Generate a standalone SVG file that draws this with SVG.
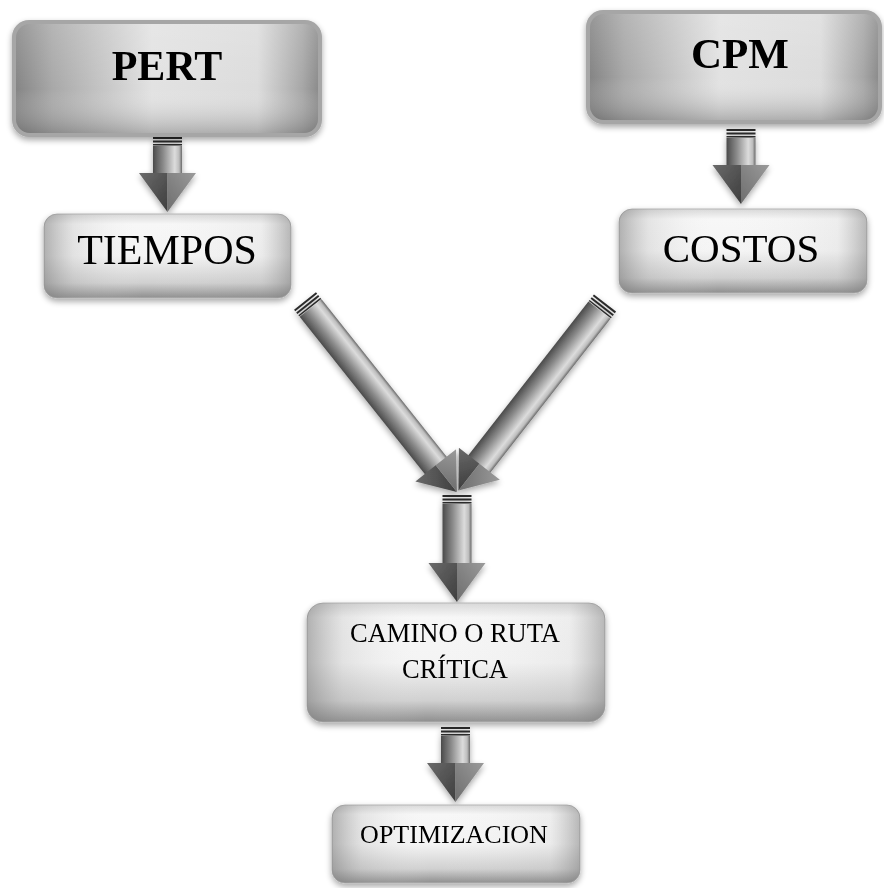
<svg xmlns="http://www.w3.org/2000/svg" width="884" height="888" viewBox="0 0 884 888">
  <defs>
    <style>
      .bold { font-family: "Liberation Serif", "Times New Roman", serif; font-weight: bold; fill: #000; text-anchor: middle; }
      .reg { font-family: "Liberation Serif", "Times New Roman", serif; fill: #000; text-anchor: middle; }
      .stripe { fill: #2a2a2a; }
    </style>
    <!-- dark bevelled header boxes -->
    <linearGradient id="hdrH" x1="0" y1="0" x2="1" y2="0">
      <stop offset="0" stop-color="#858585"/>
      <stop offset="0.12" stop-color="#a8a8a8"/>
      <stop offset="0.45" stop-color="#e2e2e2"/>
      <stop offset="0.8" stop-color="#dcdcdc"/>
      <stop offset="0.95" stop-color="#a6a6a6"/>
      <stop offset="1" stop-color="#8c8c8c"/>
    </linearGradient>
    <linearGradient id="hdrV" x1="0" y1="0" x2="0" y2="1">
      <stop offset="0" stop-color="#ffffff" stop-opacity="0.15"/>
      <stop offset="0.6" stop-color="#ffffff" stop-opacity="0"/>
      <stop offset="1" stop-color="#555" stop-opacity="0.35"/>
    </linearGradient>
    <!-- glossy light boxes -->
    <linearGradient id="glossV" x1="0" y1="0" x2="0" y2="1">
      <stop offset="0" stop-color="#d8d8d8"/>
      <stop offset="0.12" stop-color="#f7f7f7"/>
      <stop offset="0.5" stop-color="#f4f4f4"/>
      <stop offset="0.82" stop-color="#d0d0d0"/>
      <stop offset="1" stop-color="#8e8e8e"/>
    </linearGradient>
    <linearGradient id="glossH" x1="0" y1="0" x2="1" y2="0">
      <stop offset="0" stop-color="#777" stop-opacity="0.55"/>
      <stop offset="0.12" stop-color="#999" stop-opacity="0.2"/>
      <stop offset="0.4" stop-color="#fff" stop-opacity="0"/>
      <stop offset="0.88" stop-color="#999" stop-opacity="0.1"/>
      <stop offset="1" stop-color="#777" stop-opacity="0.5"/>
    </linearGradient>
    <!-- arrow shading -->
    <linearGradient id="shaft" x1="0" y1="0" x2="1" y2="0">
      <stop offset="0" stop-color="#4a4a4a"/>
      <stop offset="0.35" stop-color="#8a8a8a"/>
      <stop offset="0.75" stop-color="#dcdcdc"/>
      <stop offset="0.9" stop-color="#bdbdbd"/>
      <stop offset="1" stop-color="#6a6a6a"/>
    </linearGradient>
    <linearGradient id="headL" x1="0" y1="0" x2="1" y2="1">
      <stop offset="0" stop-color="#6a6a6a"/>
      <stop offset="1" stop-color="#3e3e3e"/>
    </linearGradient>
    <linearGradient id="headR" x1="1" y1="0" x2="0" y2="1">
      <stop offset="0" stop-color="#9a9a9a"/>
      <stop offset="1" stop-color="#6e6e6e"/>
    </linearGradient>
    <filter id="shadow" x="-10%" y="-10%" width="120%" height="130%">
      <feGaussianBlur in="SourceAlpha" stdDeviation="3"/>
      <feOffset dx="0" dy="3" result="b"/>
      <feComponentTransfer><feFuncA type="linear" slope="0.35"/></feComponentTransfer>
      <feMerge><feMergeNode/><feMergeNode in="SourceGraphic"/></feMerge>
    </filter>
    <!-- generic downward arrow, origin at top centre, total length 75 -->
    <g id="arrowDown">
      <rect class="stripe" x="-14.5" y="0" width="29" height="2"/>
      <rect class="stripe" x="-14.5" y="3.5" width="29" height="2"/>
      <rect class="stripe" x="-14.5" y="7" width="29" height="1.5"/>
      <rect x="-14.5" y="9" width="29" height="28" fill="url(#shaft)"/>
      <polygon points="-28.5,36 0,36 0,75" fill="url(#headL)"/>
      <polygon points="0,36 28.5,36 0,75" fill="url(#headR)"/>
    </g>
  </defs>

  <rect width="884" height="888" fill="#ffffff"/>

  <!-- connectors -->
  <g id="connectors" filter="url(#shadow)">
    <use href="#arrowDown" transform="translate(167.5,137)"/>
    <use href="#arrowDown" transform="translate(741,129)"/>
    <!-- long diagonal arrows -->
    <g id="diagLeft" transform="translate(305,301) rotate(-38.5)">
      <rect class="stripe" x="-14" y="0" width="28" height="2"/>
      <rect class="stripe" x="-14" y="3.5" width="28" height="2"/>
      <rect class="stripe" x="-14" y="7" width="28" height="1.5"/>
      <rect x="-14" y="9" width="28" height="202" fill="url(#shaft)"/>
      <polygon points="-26,210 0,210 0,244" fill="url(#headL)"/>
      <polygon points="0,210 26,210 0,244" fill="url(#headR)"/>
    </g>
    <g id="diagRight" transform="translate(605,303) rotate(38)">
      <rect class="stripe" x="-14" y="0" width="28" height="2"/>
      <rect class="stripe" x="-14" y="3.5" width="28" height="2"/>
      <rect class="stripe" x="-14" y="7" width="28" height="1.5"/>
      <rect x="-14" y="9" width="28" height="196" fill="url(#shaft)"/>
      <polygon points="-26,204 0,204 0,238" fill="url(#headL)"/>
      <polygon points="0,204 26,204 0,238" fill="url(#headR)"/>
    </g>
    <g transform="translate(457,495)">
      <rect class="stripe" x="-14.5" y="0" width="29" height="2"/>
      <rect class="stripe" x="-14.5" y="3.5" width="29" height="2"/>
      <rect class="stripe" x="-14.5" y="7" width="29" height="1.5"/>
      <rect x="-14.5" y="9" width="29" height="60" fill="url(#shaft)"/>
      <polygon points="-28.5,68 0,68 0,107" fill="url(#headL)"/>
      <polygon points="0,68 28.5,68 0,107" fill="url(#headR)"/>
    </g>
    <use href="#arrowDown" transform="translate(455.5,727)"/>
  </g>

  <!-- nodes -->
  <g id="pert" filter="url(#shadow)">
    <rect x="12" y="20" width="310" height="117" rx="17" fill="#a6a6a6"/>
    <rect x="16" y="24" width="302" height="109" rx="14" fill="url(#hdrH)"/>
    <rect x="16" y="24" width="302" height="109" rx="14" fill="url(#hdrV)"/>
    <text class="bold" x="167" y="80" font-size="42">PERT</text>
  </g>

  <g id="cpm" filter="url(#shadow)">
    <rect x="586" y="10" width="296" height="114" rx="17" fill="#a6a6a6"/>
    <rect x="590" y="14" width="288" height="106" rx="14" fill="url(#hdrH)"/>
    <rect x="590" y="14" width="288" height="106" rx="14" fill="url(#hdrV)"/>
    <text class="bold" x="740" y="68" font-size="43">CPM</text>
  </g>

  <g id="tiempos" filter="url(#shadow)">
    <rect x="44" y="214" width="247" height="84" rx="13" fill="url(#glossV)" stroke="#b4b4b4" stroke-width="1"/>
    <rect x="44" y="214" width="247" height="84" rx="13" fill="url(#glossH)"/>
    <text class="reg" x="167" y="264" font-size="42">TIEMPOS</text>
  </g>

  <g id="costos" filter="url(#shadow)">
    <rect x="619" y="209" width="248" height="84" rx="13" fill="url(#glossV)" stroke="#b4b4b4" stroke-width="1"/>
    <rect x="619" y="209" width="248" height="84" rx="13" fill="url(#glossH)"/>
    <text class="reg" x="741" y="262" font-size="41">COSTOS</text>
  </g>

  <g id="ruta-critica" filter="url(#shadow)">
    <rect x="307" y="603" width="298" height="119" rx="16" fill="url(#glossV)" stroke="#b4b4b4" stroke-width="1"/>
    <rect x="307" y="603" width="298" height="119" rx="16" fill="url(#glossH)"/>
    <text class="reg" x="455" y="642" font-size="26.5">CAMINO O RUTA</text>
    <text class="reg" x="455" y="678" font-size="26.5">CRÍTICA</text>
  </g>

  <g id="optimizacion" filter="url(#shadow)">
    <rect x="332" y="805" width="248" height="78" rx="13" fill="url(#glossV)" stroke="#b4b4b4" stroke-width="1"/>
    <rect x="332" y="805" width="248" height="78" rx="13" fill="url(#glossH)"/>
    <text class="reg" x="454" y="843" font-size="26">OPTIMIZACION</text>
  </g>
</svg>
